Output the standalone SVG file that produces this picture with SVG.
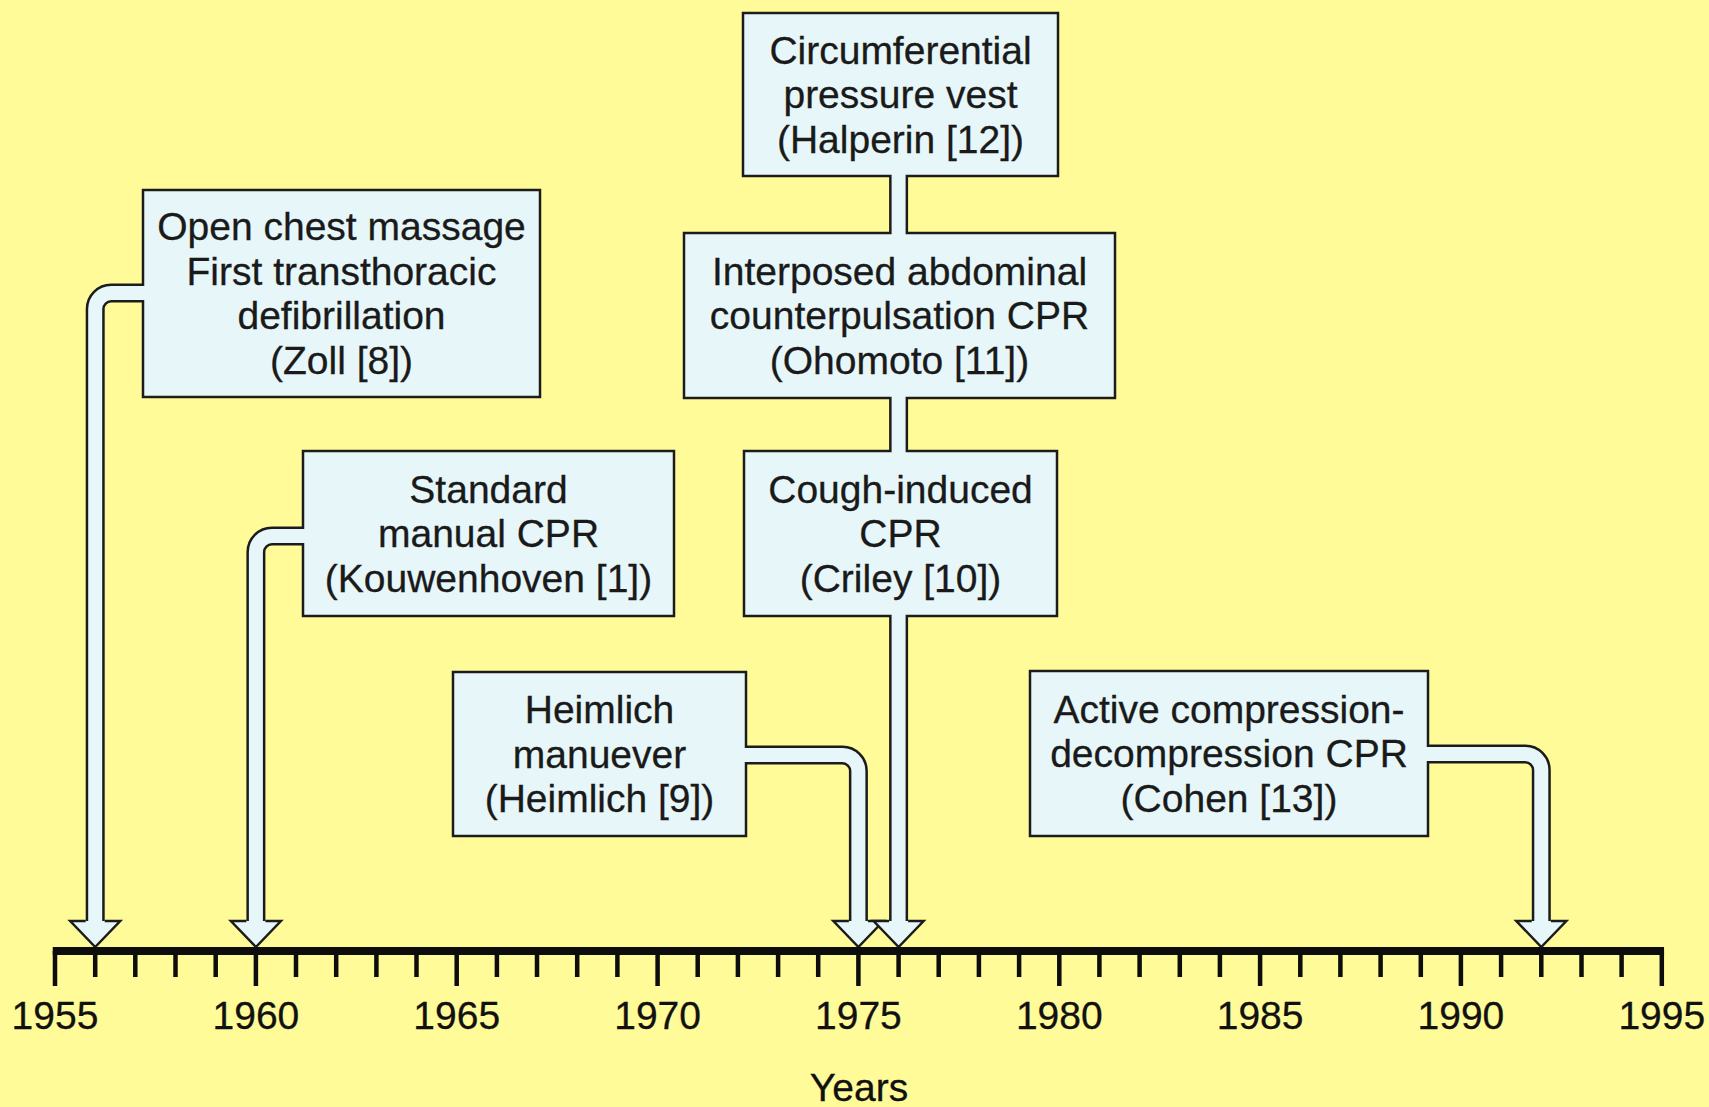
<svg xmlns="http://www.w3.org/2000/svg" width="1709" height="1107" viewBox="0 0 1709 1107">
  <style>
    .box { fill: #E6F6F9; stroke: #1c1c1c; stroke-width: 2.5; }
    .t { font-family: "Liberation Sans", Arial, sans-serif; font-size: 39px; fill: #1a1a1a; text-anchor: middle; stroke: #1a1a1a; stroke-width: 0.3; }
    .yr { font-family: "Liberation Sans", Arial, sans-serif; font-size: 39px; fill: #111; text-anchor: middle; stroke: #111; stroke-width: 0.3; }
    .pipe-out { fill: none; stroke: #1c1c1c; stroke-width: 19; stroke-linecap: butt; }
    .pipe-in { fill: none; stroke: #E6F6F9; stroke-width: 14; stroke-linecap: square; }
    .head { fill: #E6F6F9; stroke: #1c1c1c; stroke-width: 2.5; stroke-linejoin: miter; }
    .axis { fill: none; stroke: #0d0d0d; stroke-width: 8; }
    .tick { fill: none; stroke: #0d0d0d; stroke-width: 4.5; }
  </style>

  <!-- background -->
  <rect x="0" y="0" width="1709" height="1107" fill="#FFFB98"/>

  <!-- event boxes -->
  <g id="node-zoll">
    <rect class="box" x="143" y="190" width="397" height="207"/>
    <text class="t" x="341.5" y="240.25">Open chest massage</text>
    <text class="t" x="341.5" y="284.75">First transthoracic</text>
    <text class="t" x="341.5" y="329.25">defibrillation</text>
    <text class="t" x="341.5" y="373.75">(Zoll [8])</text>
  </g>
  <g id="node-kouwenhoven">
    <rect class="box" x="303" y="451" width="371" height="165"/>
    <text class="t" x="488.5" y="502.5">Standard</text>
    <text class="t" x="488.5" y="547">manual CPR</text>
    <text class="t" x="488.5" y="591.5">(Kouwenhoven [1])</text>
  </g>
  <g id="node-heimlich">
    <rect class="box" x="453" y="672" width="293" height="164"/>
    <text class="t" x="599.5" y="723">Heimlich</text>
    <text class="t" x="599.5" y="767.5">manuever</text>
    <text class="t" x="599.5" y="812">(Heimlich [9])</text>
  </g>
  <g id="node-criley">
    <rect class="box" x="744" y="451" width="313" height="165"/>
    <text class="t" x="900.5" y="502.5">Cough-induced</text>
    <text class="t" x="900.5" y="547">CPR</text>
    <text class="t" x="900.5" y="591.5">(Criley [10])</text>
  </g>
  <g id="node-ohomoto">
    <rect class="box" x="684" y="233" width="431" height="165"/>
    <text class="t" x="899.5" y="284.5">Interposed abdominal</text>
    <text class="t" x="899.5" y="329">counterpulsation CPR</text>
    <text class="t" x="899.5" y="373.5">(Ohomoto [11])</text>
  </g>
  <g id="node-halperin">
    <rect class="box" x="743" y="13" width="315" height="163"/>
    <text class="t" x="900.5" y="63.5">Circumferential</text>
    <text class="t" x="900.5" y="108">pressure vest</text>
    <text class="t" x="900.5" y="152.5">(Halperin [12])</text>
  </g>
  <g id="node-cohen">
    <rect class="box" x="1030" y="671" width="398" height="165"/>
    <text class="t" x="1229" y="722.5">Active compression-</text>
    <text class="t" x="1229" y="767">decompression CPR</text>
    <text class="t" x="1229" y="811.5">(Cohen [13])</text>
  </g>

  <!-- hollow pipe connectors and arrows onto the time axis -->
  <g id="connectors">
    <g id="link-halperin-ohomoto">
      <path class="pipe-out" d="M898.6 176 V233"/>
      <path class="pipe-in" d="M898.6 176 V233"/>
    </g>
    <g id="link-ohomoto-criley">
      <path class="pipe-out" d="M898.6 398 V451"/>
      <path class="pipe-in" d="M898.6 398 V451"/>
    </g>
    <g id="arrow-zoll">
      <path class="pipe-out" d="M143 293 H111.2 A16 16 0 0 0 95.2 309 V921"/>
      <path class="pipe-in" d="M143 293 H111.2 A16 16 0 0 0 95.2 309 V921"/>
      <path class="head" d="M85.7 921 H70.2 L95.2 947 L120.2 921 H104.7"/>
    </g>
    <g id="arrow-kouwenhoven">
      <path class="pipe-out" d="M303 536 H271.9 A16 16 0 0 0 255.9 552 V921"/>
      <path class="pipe-in" d="M303 536 H271.9 A16 16 0 0 0 255.9 552 V921"/>
      <path class="head" d="M246.4 921 H230.9 L255.9 947 L280.9 921 H265.4"/>
    </g>
    <g id="arrow-heimlich">
      <path class="pipe-out" d="M746 755 H842.4 A16 16 0 0 1 858.4 771 V921"/>
      <path class="pipe-in" d="M746 755 H842.4 A16 16 0 0 1 858.4 771 V921"/>
      <path class="head" d="M848.9 921 H833.4 L858.4 947 L883.4 921 H867.9"/>
    </g>
    <g id="arrow-criley">
      <path class="pipe-out" d="M898.6 616 V921"/>
      <path class="pipe-in" d="M898.6 616 V921"/>
      <path class="head" d="M889.1 921 H873.6 L898.6 947 L923.6 921 H908.1"/>
    </g>
    <g id="arrow-cohen">
      <path class="pipe-out" d="M1428 754 H1525.3 A16 16 0 0 1 1541.3 770 V921"/>
      <path class="pipe-in" d="M1428 754 H1525.3 A16 16 0 0 1 1541.3 770 V921"/>
      <path class="head" d="M1531.8 921 H1516.3 L1541.3 947 L1566.3 921 H1550.8"/>
    </g>
  </g>

  <!-- time axis 1955-1995 -->
  <g id="axis">
    <path class="axis" d="M52.75 951 H1664.05"/>
    <path class="tick" d="M55 951V986 M255.9 951V986 M456.7 951V986 M657.6 951V986 M858.4 951V986 M1059.3 951V986 M1260.1 951V986 M1460.9 951V986 M1661.8 951V986"/>
    <path class="tick" d="M95.2 951V977 M135.3 951V977 M175.5 951V977 M215.7 951V977
      M296 951V977 M336.2 951V977 M376.4 951V977 M416.5 951V977
      M496.9 951V977 M537 951V977 M577.2 951V977 M617.4 951V977
      M697.7 951V977 M737.9 951V977 M778.1 951V977 M818.2 951V977
      M898.6 951V977 M938.7 951V977 M978.9 951V977 M1019.1 951V977
      M1099.4 951V977 M1139.6 951V977 M1179.8 951V977 M1219.9 951V977
      M1300.3 951V977 M1340.4 951V977 M1380.6 951V977 M1420.8 951V977
      M1501.1 951V977 M1541.3 951V977 M1581.5 951V977 M1621.6 951V977"/>
    <text class="yr" x="55" y="1029">1955</text>
    <text class="yr" x="255.9" y="1029">1960</text>
    <text class="yr" x="456.7" y="1029">1965</text>
    <text class="yr" x="657.6" y="1029">1970</text>
    <text class="yr" x="858.4" y="1029">1975</text>
    <text class="yr" x="1059.3" y="1029">1980</text>
    <text class="yr" x="1260.1" y="1029">1985</text>
    <text class="yr" x="1460.9" y="1029">1990</text>
    <text class="yr" x="1661.8" y="1029">1995</text>
    <text class="yr" x="859" y="1101">Years</text>
  </g>
</svg>
